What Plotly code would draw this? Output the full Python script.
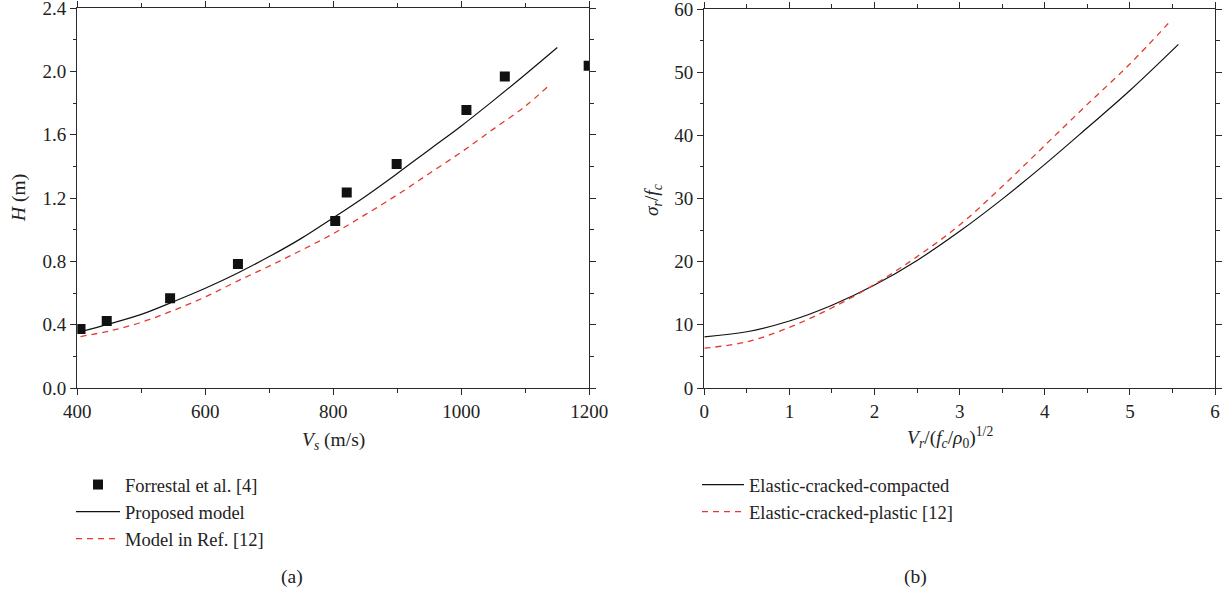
import plotly.graph_objects as go

# ---------------- data ----------------
# (a) penetration depth vs striking velocity
exp_vs = [405, 446, 545, 651, 803, 821, 899, 1008, 1068, 1199]
exp_h = [0.373, 0.423, 0.567, 0.783, 1.055, 1.234, 1.415, 1.756, 1.967, 2.036]

prop_vs = [405, 450, 500, 550, 600, 650, 700, 750, 800, 850, 900, 950, 1000, 1050, 1100, 1150]
prop_h = [0.355, 0.405, 0.465, 0.545, 0.63, 0.725, 0.83, 0.945, 1.075, 1.21, 1.355, 1.505, 1.655, 1.815, 1.98, 2.15]

ref_vs = [405, 450, 500, 550, 600, 650, 700, 750, 800, 850, 900, 950, 1000, 1050, 1100, 1138]
ref_h = [0.325, 0.36, 0.415, 0.49, 0.575, 0.675, 0.77, 0.87, 0.975, 1.095, 1.22, 1.355, 1.49, 1.635, 1.78, 1.915]

# (b) radial stress vs cavity expansion velocity
ecc_v = [0, 0.5, 1.0, 1.5, 2.0, 2.5, 3.0, 3.5, 4.0, 4.5, 5.0, 5.57]
ecc_s = [8.1, 8.9, 10.6, 13.1, 16.3, 20.2, 24.8, 29.9, 35.4, 41.2, 47.1, 54.4]

ecp_v = [0, 0.5, 1.0, 1.5, 2.0, 2.5, 3.0, 3.5, 4.0, 4.5, 5.0, 5.45]
ecp_s = [6.3, 7.3, 9.6, 12.7, 16.4, 20.8, 25.8, 31.9, 38.4, 44.9, 51.3, 57.7]

x_a_ticks = [400, 600, 800, 1000, 1200]
y_a_ticks = [0.0, 0.4, 0.8, 1.2, 1.6, 2.0, 2.4]
x_b_ticks = [0, 1, 2, 3, 4, 5, 6]
y_b_ticks = [0, 10, 20, 30, 40, 50, 60]

# ---------------- layout helpers ----------------
W, H = 1232, 594
FONT = "Liberation Serif, Times New Roman, serif"
AX = "#2b2b2b"
TXT = "#222222"
RED = "#e5392f"


def fx(px):
    return px / W


def fy(py):
    return 1 - py / H


fig = go.Figure()

fig.add_trace(go.Scatter(x=exp_vs, y=exp_h, mode="markers", name="Forrestal et al. [4]",
                         marker=dict(symbol="square", size=10, color="#111111"),
                         xaxis="x", yaxis="y", legend="legend"))
fig.add_trace(go.Scatter(x=prop_vs, y=prop_h, mode="lines", name="Proposed model",
                         line=dict(color="#111111", width=1.2, shape="spline"),
                         xaxis="x", yaxis="y", legend="legend"))
fig.add_trace(go.Scatter(x=ref_vs, y=ref_h, mode="lines", name="Model in Ref. [12]",
                         line=dict(color=RED, width=1.3, dash="6px,5px", shape="spline"),
                         xaxis="x", yaxis="y", legend="legend"))

fig.add_trace(go.Scatter(x=ecc_v, y=ecc_s, mode="lines", name="Elastic-cracked-compacted",
                         line=dict(color="#111111", width=1.2, shape="spline"),
                         xaxis="x2", yaxis="y2", legend="legend2"))
fig.add_trace(go.Scatter(x=ecp_v, y=ecp_s, mode="lines", name="Elastic-cracked-plastic [12]",
                         line=dict(color=RED, width=1.3, dash="6px,5px", shape="spline"),
                         xaxis="x2", yaxis="y2", legend="legend2"))

axis_common = dict(showline=True, linecolor=AX, linewidth=1.3, mirror="ticks",
                   ticks="outside", ticklen=6, tickwidth=1.2, tickcolor=AX,
                   showgrid=False, zeroline=False, automargin=False,
                   ticklabeloverflow="allow",
                   tickfont=dict(family=FONT, size=19, color=TXT))

fig.update_layout(
    width=W, height=H,
    margin=dict(l=0, r=0, t=0, b=0),
    paper_bgcolor="white", plot_bgcolor="white",
    font=dict(family=FONT, size=19, color=TXT),
    xaxis=dict(domain=[fx(77.3), fx(589.3)], range=[400, 1200], anchor="y",
               tickvals=x_a_ticks, ticktext=[str(v) for v in x_a_ticks],
               minor=dict(dtick=100, ticklen=3.5, ticks="outside", tickcolor=AX, tickwidth=1.1),
               **axis_common),
    yaxis=dict(domain=[fy(388), fy(8)], range=[0, 2.4], anchor="x",
               tickvals=y_a_ticks, ticktext=[f"{v:.1f}" for v in y_a_ticks],
               minor=dict(dtick=0.2, ticklen=3.5, ticks="outside", tickcolor=AX, tickwidth=1.1),
               **axis_common),
    xaxis2=dict(domain=[fx(704.3), fx(1215)], range=[0, 6], anchor="y2",
                tickvals=x_b_ticks, ticktext=[str(v) for v in x_b_ticks],
                minor=dict(dtick=0.5, ticklen=3.5, ticks="outside", tickcolor=AX, tickwidth=1.1),
                **axis_common),
    yaxis2=dict(domain=[fy(388), fy(9)], range=[0, 60], anchor="x2",
                tickvals=y_b_ticks, ticktext=[str(v) for v in y_b_ticks],
                minor=dict(dtick=5, ticklen=3.5, ticks="outside", tickcolor=AX, tickwidth=1.1),
                **axis_common),
    legend=dict(x=fx(71), y=fy(466), xanchor="left", yanchor="top",
                bgcolor="rgba(0,0,0,0)", font=dict(family=FONT, size=18.5, color=TXT),
                tracegroupgap=0, itemwidth=44, borderwidth=0),
    legend2=dict(x=fx(697), y=fy(466), xanchor="left", yanchor="top",
                 bgcolor="rgba(0,0,0,0)", font=dict(family=FONT, size=18.5, color=TXT),
                 tracegroupgap=0, itemwidth=42, borderwidth=0),
    showlegend=True,
)

ann = dict(xref="paper", yref="paper", showarrow=False, xanchor="center", yanchor="middle",
           font=dict(family=FONT, size=19.5, color=TXT))
fig.add_annotation(text="<i>H</i> (m)", x=fx(19), y=fy(198), textangle=-90, **ann)
fig.add_annotation(text="<i>V</i><sub><i>s</i></sub> (m/s)", x=fx(333), y=fy(441), **ann)
fig.add_annotation(text="<i>σ</i><sub><i>r</i></sub>/<i>f</i><sub><i>c</i></sub>",
                   x=fx(653), y=fy(200), textangle=-90, **ann)
fig.add_annotation(text="<i>V</i><sub><i>r</i></sub>/(<i>f</i><sub><i>c</i></sub>/<i>ρ</i><sub>0</sub>)<sup>1/2</sup>",
                   x=fx(950), y=fy(437), **ann)
fig.add_annotation(text="(a)", x=fx(292), y=fy(577), **ann)
fig.add_annotation(text="(b)", x=fx(915), y=fy(577), **ann)

fig.write_html("out.html")
